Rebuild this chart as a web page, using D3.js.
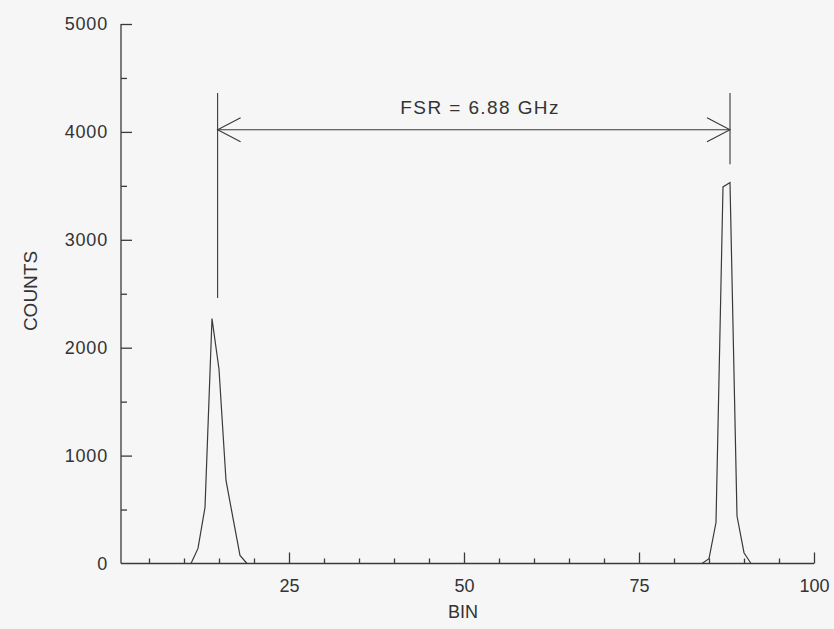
<!DOCTYPE html>
<html>
<head>
<meta charset="utf-8">
<script src="https://cdn.jsdelivr.net/npm/d3@7"></script>
<style>
  html, body { margin: 0; padding: 0; background: #f6f6f6; }
  svg { display: block; }
  text { font-family: Arial, "Liberation Sans", Helvetica, sans-serif; fill: #333; }
</style>
</head>
<body>
<svg id="chart" width="834" height="629"></svg>
<script>
// ---- data ----
const leftBins    = [11, 12, 13, 14, 15, 16, 17, 18, 19];
const leftCounts  = [0, 140, 520, 2270, 1800, 770, 420, 75, 0];
const rightBins   = [84, 85, 86, 87, 88, 89, 90, 91];
const rightCounts = [0, 45, 380, 3490, 3530, 440, 100, 0];

const xMajorTicks = [25, 50, 75, 100];
const xMinorTicks = [5, 10, 15, 20, 30, 35, 40, 45, 55, 60, 65, 70, 80, 85, 90, 95];
const yMajorTicks = [1000, 2000, 3000, 4000, 5000];
const yMinorTicks = [500, 1500, 2500, 3500, 4500];
const yLabelTicks = [0, 1000, 2000, 3000, 4000, 5000];

const fsrLabel = "FSR = 6.88 GHz";
const fsrBins = [14.8, 88.0];          // marker positions (bin)
const fsrArrowCount = 4020;            // arrow height (counts)
const fsrTopCount = 4360;              // top of marker lines
const fsrBottomCounts = [2460, 3700];  // bottom of marker lines
const fsrTextPos = [52.3, 4170];

// ---- layout ----
const svg = d3.select("#chart");
const ink = "#3a3a3a";
const x = d3.scaleLinear().domain([1, 100]).range([121, 814]);
const y = d3.scaleLinear().domain([0, 5000]).range([563.5, 24]);

// axes lines
const g = svg.append("g");
g.append("line").attr("x1", x(1)).attr("x2", x(100)).attr("y1", y(0)).attr("y2", y(0))
  .attr("stroke", ink).attr("stroke-width", 1.3);
g.append("line").attr("x1", x(1)).attr("x2", x(1)).attr("y1", y(0)).attr("y2", y(5000))
  .attr("stroke", ink).attr("stroke-width", 1.3);

// x axis ticks (inward)
const xMaj = svg.append("g").attr("transform", `translate(0,${y(0)})`)
  .call(d3.axisBottom(x).tickValues(xMajorTicks).tickSizeInner(-11).tickSizeOuter(0).tickPadding(16));
const xMin = svg.append("g").attr("transform", `translate(0,${y(0)})`)
  .call(d3.axisBottom(x).tickValues(xMinorTicks).tickSizeInner(-5).tickSizeOuter(0).tickFormat(""));
[xMaj, xMin].forEach(a => {
  a.select(".domain").remove();
  a.selectAll(".tick line").attr("stroke", ink).attr("stroke-width", 1.3);
});
xMaj.selectAll(".tick text").attr("font-size", 18).attr("fill", "#333")
  .style("font-family", "Arial, 'Liberation Sans', sans-serif");

// y axis ticks (inward)
const yMaj = svg.append("g").attr("transform", `translate(${x(1)},0)`)
  .call(d3.axisLeft(y).tickValues(yMajorTicks).tickSizeInner(-11).tickSizeOuter(0).tickFormat(""));
const yMin = svg.append("g").attr("transform", `translate(${x(1)},0)`)
  .call(d3.axisLeft(y).tickValues(yMinorTicks).tickSizeInner(-6).tickSizeOuter(0).tickFormat(""));
const yLab = svg.append("g").attr("transform", `translate(${x(1)},0)`)
  .call(d3.axisLeft(y).tickValues(yLabelTicks).tickSize(0).tickPadding(13).tickFormat(d3.format("d")));
[yMaj, yMin, yLab].forEach(a => {
  a.select(".domain").remove();
  a.selectAll(".tick line").attr("stroke", ink).attr("stroke-width", 1.3);
});
yLab.selectAll(".tick text").attr("font-size", 18).attr("letter-spacing", 0.8).attr("fill", "#333")
  .style("font-family", "Arial, 'Liberation Sans', sans-serif");

// axis titles
svg.append("text").attr("x", 463).attr("y", 618).attr("text-anchor", "middle")
  .attr("font-size", 18).text("BIN");
svg.append("text").attr("transform", "translate(37,291) rotate(-90)")
  .attr("text-anchor", "middle").attr("font-size", 19).text("COUNTS");

// data lines
const line = d3.line().x(d => x(d[0])).y(d => y(d[1]));
svg.append("path").datum(leftBins.map((b, i) => [b, leftCounts[i]]))
  .attr("d", line).attr("fill", "none").attr("stroke", ink).attr("stroke-width", 1.2);
svg.append("path").datum(rightBins.map((b, i) => [b, rightCounts[i]]))
  .attr("d", line).attr("fill", "none").attr("stroke", ink).attr("stroke-width", 1.2);

// FSR annotation
const ann = svg.append("g").attr("stroke", ink).attr("stroke-width", 1.1).attr("fill", "none");
fsrBins.forEach((b, i) => {
  ann.append("line").attr("x1", x(b)).attr("x2", x(b))
    .attr("y1", y(fsrTopCount)).attr("y2", y(fsrBottomCounts[i]));
});
const ay = y(fsrArrowCount);
const xa = x(fsrBins[0]), xb = x(fsrBins[1]);
ann.append("line").attr("x1", xa).attr("x2", xb).attr("y1", ay).attr("y2", ay);
ann.append("path").attr("d", `M${xa + 23},${ay - 12} L${xa},${ay} L${xa + 23},${ay + 12}`);
ann.append("path").attr("d", `M${xb - 23},${ay - 12} L${xb},${ay} L${xb - 23},${ay + 12}`);

svg.append("text").attr("x", x(fsrTextPos[0])).attr("y", y(fsrTextPos[1]))
  .attr("text-anchor", "middle").attr("font-size", 19).attr("letter-spacing", 1.4)
  .text(fsrLabel);
</script>
</body>
</html>
